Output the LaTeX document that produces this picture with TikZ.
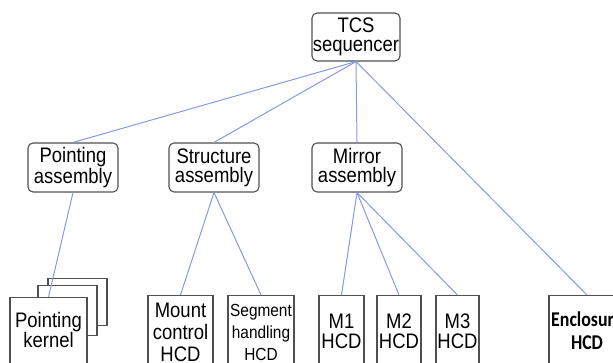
\documentclass[tikz,border=0pt]{standalone}
\usepackage{fontspec}
\setmainfont{Liberation Sans}[FakeStretch=0.88]
\newfontfamily\encfont{Carlito}[FakeStretch=0.85]
\definecolor{boxgray}{RGB}{80,80,80}
\definecolor{linkblue}{RGB}{136,153,228}
\begin{document}
\begin{tikzpicture}[x=1pt,y=-1pt,
  group/.style={draw=boxgray, line width=1.1pt, rounded corners=5pt, fill=white,
    align=center, inner sep=0pt, font=\fontsize{21}{19}\selectfont},
  hcd/.style={draw=boxgray, line width=1.3pt, fill=white, inner sep=0pt, anchor=north},
  boxtext/.style={align=center, inner sep=0pt, font=\fontsize{21}{20}\selectfont},
  link/.style={draw=linkblue, line width=1pt}]

\clip (0,0) rectangle (613,363);
\fill[white] (0,0) rectangle (613,363);

% top level and assemblies
\node[group, minimum width=88pt, minimum height=48pt] (tcs) at (356,37) {TCS\\sequencer};
\node[group, minimum width=90pt, minimum height=49pt] (pa) at (73,167.5) {Pointing\\assembly};
\node[group, minimum width=90pt, minimum height=49pt] (sa) at (214,167.5) {Structure\\assembly};
\node[group, minimum width=90pt, minimum height=49pt] (ma) at (357,167.5) {Mirror\\assembly};

% pointing kernel stack (two copies behind the front one)
\node[hcd, minimum width=59pt, minimum height=47pt] (pk3) at (77.5,278) {};
\node[hcd, minimum width=59pt, minimum height=50pt] (pk2) at (67.5,285) {};
\node[hcd, minimum width=77pt, minimum height=100pt] (pk) at (48.5,297) {};
\node[boxtext] (pkt) at (48.5,330) {Pointing\\kernel};

% hardware control daemons
\node[hcd, minimum width=65pt, minimum height=100pt] (mc) at (180.5,295) {};
\node[boxtext, font=\fontsize{21}{22}\selectfont] (mct) at (180.5,332) {Mount\\control\\HCD};
\node[hcd, minimum width=66pt, minimum height=100pt] (sh) at (261,295) {};
\node[boxtext, font=\fontsize{17.5}{22}\selectfont] (sht) at (261,332) {Segment\\handling\\HCD};
\node[hcd, minimum width=45pt, minimum height=100pt] (m1) at (341.5,295) {};
\node[boxtext] (m1t) at (341.5,331.5) {M1\\HCD};
\node[hcd, minimum width=44pt, minimum height=100pt] (m2) at (399,295) {};
\node[boxtext] (m2t) at (399,331.5) {M2\\HCD};
\node[hcd, minimum width=43pt, minimum height=100pt] (m3) at (457.5,295) {};
\node[boxtext] (m3t) at (457.5,331.5) {M3\\HCD};
\node[hcd, minimum width=76pt, minimum height=100pt] (en) at (587,295) {};
\node[boxtext, font=\encfont\bfseries\fontsize{21}{23}\selectfont] (ent) at (587,331) {Enclosure\\HCD};

% connectors
\path[link] (tcs.south) -- (pa.north);
\path[link] (tcs.south) -- (sa.north);
\path[link] (tcs.south) -- (ma.north);
\path[link] (tcs.south) -- (en.north);
\path[link] (pa.south) -- (pk.north);
\path[link] (sa.south) -- (mc.north);
\path[link] (sa.south) -- (sh.north);
\path[link] (ma.south) -- (m1.north);
\path[link] (ma.south) -- (m2.north);
\path[link] (ma.south) -- (m3.north);
\end{tikzpicture}
\end{document}
